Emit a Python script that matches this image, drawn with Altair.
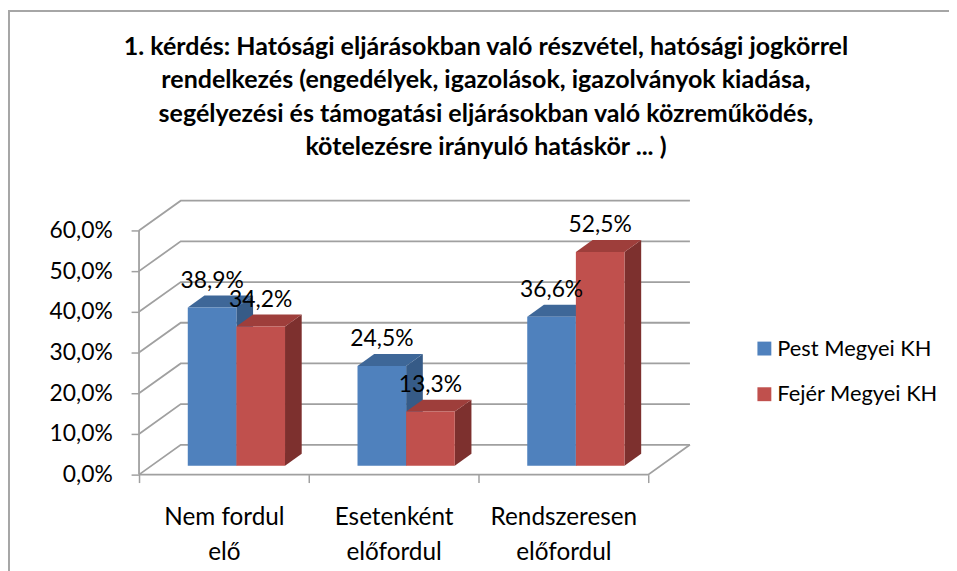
import json
import altair as alt
import pandas as pd

# ---------------- data ----------------
categories = ["Nem fordul elő", "Esetenként előfordul", "Rendszeresen előfordul"]
series = ["Pest Megyei KH", "Fejér Megyei KH"]
pest_values = [38.9, 24.5, 36.6]
fejer_values = [34.2, 13.3, 52.5]
y_ticks = [0, 10, 20, 30, 40, 50, 60]
title_lines = [
    "1. kérdés: Hatósági eljárásokban való részvétel, hatósági jogkörrel",
    "rendelkezés (engedélyek, igazolások, igazolványok kiadása,",
    "segélyezési és támogatási eljárásokban való közreműködés,",
    "kötelezésre irányuló hatáskör ... )",
]

# ---------------- style ----------------
front_colors = ["#4F81BD", "#C0504D"]
top_colors = ["#3E6798", "#9E3E3B"]
side_colors = ["#365B87", "#7D302E"]
GRAY = "#A0A0A0"
FONT = "Lato"

# ---------------- layout (pixels) ----------------
VIEW_W, VIEW_H = 961, 575
PAD_L, PAD_T = 1, 1
SVG_W, SVG_H = 948, 563
ORIGIN_X, ORIGIN_Y = 131, 467      # front-left floor corner inside the view
CAT_PX = 171.0                      # pixels per category
PCT_PX = 4.1                        # pixels per percentage point
DEPTH_X_PX, DEPTH_Y_PX = 42.0, 30.0 # depth of the 3D box
F0, F1 = 0.3, 0.7                   # bar depth start/end (fraction of box depth)
GROUP = 0.573                       # fraction of a category filled by bars

ncat = len(categories)
nser = len(series)
DX = DEPTH_X_PX / CAT_PX
DY = DEPTH_Y_PX / PCT_PX
BW = GROUP / nser

x_domain = [-ORIGIN_X / CAT_PX, (VIEW_W - ORIGIN_X) / CAT_PX]
y_domain = [-(VIEW_H - ORIGIN_Y) / PCT_PX, ORIGIN_Y / PCT_PX]

values = [pest_values, fejer_values]

fronts, tops, sides = [], [], []
bids, bid_top_colors, bid_side_colors = [], [], []
for i, cat in enumerate(categories):
    for j, ser in enumerate(series):
        v = values[j][i]
        x0 = i + (1 - GROUP) / 2 + j * BW + F0 * DX
        x1 = x0 + BW
        sh = (F1 - F0) * DX
        bid = f"b{i}{j}"
        bids.append(bid)
        bid_top_colors.append(top_colors[j])
        bid_side_colors.append(side_colors[j])
        lab = f"{v:.1f}".replace(".", ",") + "%"
        fronts.append(dict(series=ser, x=x0, x2=x1, y=F0 * DY, y2=v + F0 * DY,
                           xc=(x0 + x1) / 2, label=lab))
        tops.append(dict(tbid=bid, ty=v + F0 * DY, tx=x0, tx2=x1))
        tops.append(dict(tbid=bid, ty=v + F1 * DY, tx=x0 + sh, tx2=x1 + sh))
        sides.append(dict(sbid=bid, sx=x1, sy=F0 * DY, sy2=v + F0 * DY))
        sides.append(dict(sbid=bid, sx=x1 + sh, sy=F1 * DY, sy2=v + F1 * DY))

lines = []
for t in y_ticks:
    lines += [dict(lid=f"g{t}", k=0, x=0, y=t),
              dict(lid=f"g{t}", k=1, x=DX, y=t + DY),
              dict(lid=f"g{t}", k=2, x=ncat + DX, y=t + DY)]
lines += [dict(lid="floor", k=0, x=0, y=0),
          dict(lid="floor", k=1, x=ncat, y=0),
          dict(lid="floor", k=2, x=ncat + DX, y=DY)]
lines += [dict(lid="axis", k=0, x=0, y=0),
          dict(lid="axis", k=1, x=0, y=max(y_ticks))]

df_front = pd.DataFrame(fronts)
df_top = pd.DataFrame(tops)
df_side = pd.DataFrame(sides)
df_lines = pd.DataFrame(lines)

xscale = alt.Scale(domain=x_domain, nice=False, zero=False)
yscale = alt.Scale(domain=y_domain, nice=False, zero=False)

tick_vals = sorted([float(i) for i in range(ncat + 1)] + [i + 0.5 for i in range(ncat)])
label_arr = json.dumps([c.rsplit(" ", 1) for c in categories], ensure_ascii=False)

xaxis = alt.Axis(
    values=tick_vals, title=None, domain=False, grid=False,
    tickSize=8, tickColor=GRAY, tickWidth=1.5,
    tickOpacity={"condition": {"test": "datum.value % 1 != 0", "value": 0}, "value": 1},
    labelExpr=f"datum.value % 1 == 0 ? '' : {label_arr}[floor(datum.value)]",
    labelFont=FONT, labelFontSize=24.5, labelColor="#000", labelLineHeight=36,
    labelPadding=23, labelBaseline="top", labelOverlap=False,
    offset=-(VIEW_H - ORIGIN_Y),
)
yaxis = alt.Axis(
    values=y_ticks, title=None, domain=False, grid=False,
    tickSize=8, tickColor=GRAY, tickWidth=1.5,
    labelExpr="replace(format(datum.value, '.1f'), '.', ',') + '%'",
    labelFont=FONT, labelFontSize=23, labelColor="#000", labelPadding=19,
    labelOverlap=False, offset=-ORIGIN_X,
)

grid = alt.Chart(df_lines).mark_line(color=GRAY, strokeWidth=1.8).encode(
    x=alt.X("x:Q", scale=xscale, axis=xaxis),
    y=alt.Y("y:Q", scale=yscale, axis=yaxis),
    detail="lid:N",
    order="k:Q",
)

side_layer = alt.Chart(df_side).mark_area(orient="vertical").encode(
    x=alt.X("sx:Q", scale=xscale, axis=xaxis),
    y=alt.Y("sy:Q", scale=yscale, axis=yaxis),
    y2="sy2:Q",
    color=alt.Color("sbid:N", scale=alt.Scale(domain=bids, range=bid_side_colors), legend=None),
)

top_layer = alt.Chart(df_top).mark_area(orient="horizontal").encode(
    y=alt.Y("ty:Q", scale=yscale, axis=yaxis),
    x=alt.X("tx:Q", scale=xscale, axis=xaxis),
    x2="tx2:Q",
    color=alt.Color("tbid:N", scale=alt.Scale(domain=bids, range=bid_top_colors), legend=None),
)

front_layer = alt.Chart(df_front).mark_rect().encode(
    x=alt.X("x:Q", scale=xscale, axis=xaxis),
    x2="x2:Q",
    y=alt.Y("y:Q", scale=yscale, axis=yaxis),
    y2="y2:Q",
    color=alt.Color(
        "series:N",
        scale=alt.Scale(domain=series, range=front_colors),
        sort=series,
        legend=alt.Legend(
            title=None, orient="none", legendX=750, legendY=329,
            symbolType="square", symbolSize=196, symbolStrokeWidth=0,
            labelFont=FONT, labelFontSize=22, labelColor="#000", labelLimit=0,
            rowPadding=24, labelOffset=2, padding=0,
        ),
    ),
)

label_layer = alt.Chart(df_front).mark_text(
    font=FONT, fontSize=23, color="#000", baseline="middle", align="center", dy=-27
).encode(
    x=alt.X("xc:Q", scale=xscale, axis=xaxis),
    y=alt.Y("y2:Q", scale=yscale, axis=yaxis),
    text="label:N",
)

chart = alt.layer(grid, side_layer, top_layer, front_layer, label_layer).resolve_scale(
    color="independent"
).properties(
    width=VIEW_W,
    height=VIEW_H,
    autosize=alt.AutoSizeParams(type="none"),
    padding={"left": PAD_L, "top": PAD_T,
             "right": SVG_W - PAD_L - VIEW_W, "bottom": SVG_H - PAD_T - VIEW_H},
    title=alt.TitleParams(
        title_lines, font=FONT, fontSize=25.2, fontWeight="bold", color="#000",
        lineHeight=33.5, anchor="middle", baseline="bottom", offset=-175,
    ),
    background="white",
).configure_view(stroke="#A6A6A6", strokeWidth=2)

chart.save("out.html", embed_options={"renderer": "svg", "actions": False})
